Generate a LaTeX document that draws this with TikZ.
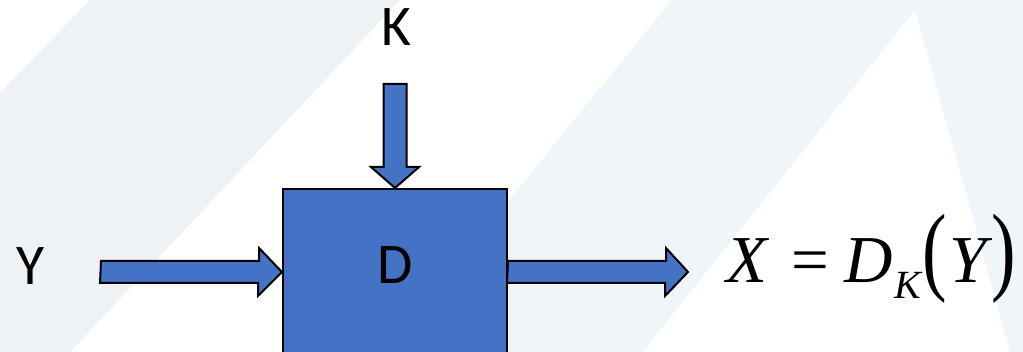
\documentclass[tikz,border=0pt]{standalone}
\usepackage{fontspec}
\usepackage{graphicx}
\newfontfamily\labelfont{Carlito}
\newfontfamily\formulafont{Liberation Serif}
\definecolor{boxblue}{HTML}{4472C4}
\definecolor{bandgrey}{HTML}{EFF2F5}
\definecolor{bandblue}{HTML}{F0F5FA}
\tikzset{
  blockarrow/.style={draw=black, fill=boxblue, line width=2pt, line join=miter},
  sanslabel/.style={inner sep=0pt, font=\labelfont\fontsize{57.5}{60}\selectfont},
}
\begin{document}
\begin{tikzpicture}[x=1pt, y=-1pt]
    % Page frame
    \useasboundingbox (0,0) rectangle (1023,352);
    \clip (0,0) rectangle (1023,352);

    % Background bands
    \fill[bandgrey] (90,0) -- (400,0) -- (70,352) -- (0,352) -- (0,93) -- cycle;
    \fill[bandblue] (672,0) -- (1023,0) -- (1023,352) -- (385,352) -- cycle;
    \fill[white] (915,10) -- (1010,352) -- (643,352) -- cycle;

    % Decryption box
    \node[draw=black, fill=boxblue, line width=2pt, inner sep=0pt,
          minimum width=224pt, minimum height=200pt, anchor=north] (dec) at (395,188) {};

    % Labels
    \node[sanslabel] (ylabel) at (31,266.5) {Y};
    \node[sanslabel] (klabel) at (396,27.5) {K};
    \node[sanslabel] (dlabel) at (395,265) {D};

    % Free ends of the arrows
    \coordinate (yin) at (101,272);
    \coordinate (kin) at (395,84);
    \coordinate (xout) at (688,272);

    % Ciphertext arrow into the box
    \draw[blockarrow] (yin) ++(0,-11) -- ++(158,0) -- ++(0,-13) -- (dec.west |- yin)
        -- ++(-24,24) -- ++(0,-13) -- ++(-158,0) -- cycle;
    % Key arrow into the box
    \draw[blockarrow] (kin) ++(-11.5,0) -- ++(23,0) -- ++(0,83) -- ++(12.5,0) -- (dec.north)
        -- ++(-24,-21) -- ++(12.5,0) -- cycle;
    % Plaintext arrow out of the box
    \draw[blockarrow] (dec.east |- xout) ++(0,-11) -- ++(158,0) -- ++(0,-13) -- (xout)
        -- ++(-23,24) -- ++(0,-13) -- ++(-158,0) -- cycle;

    % Result
    \node[anchor=base west, inner sep=0pt, font=\formulafont\fontsize{67}{70}\selectfont]
        (result) at (726,283)
        {\itshape X\upshape\hspace{24pt}=\hspace{16pt}\itshape D\hspace{1pt}\raisebox{-16pt}{\fontsize{40}{42}\selectfont K}\upshape\hspace{2pt}\scalebox{1.1}[1.47]{(}\hspace{2pt}\itshape Y\upshape\hspace{5pt}\scalebox{1.1}[1.47]{)}};
\end{tikzpicture}
\end{document}
